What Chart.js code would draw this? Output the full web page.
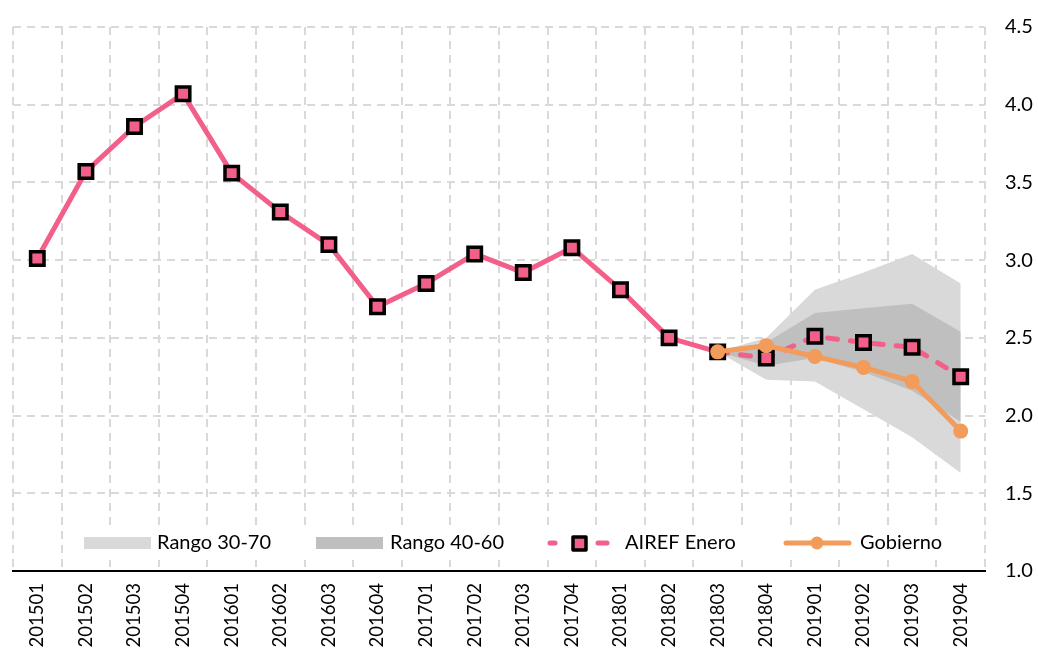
<!DOCTYPE html>
<html>
<head>
<meta charset="utf-8">
<script src="https://cdn.jsdelivr.net/npm/chart.js@4.4.0/dist/chart.umd.min.js"></script>
<style>
  html, body { margin: 0; padding: 0; background: #fff; }
  #wrap { width: 1038px; height: 657px; }
</style>
</head>
<body>
<div id="wrap"><canvas id="grafico" width="1038" height="657"></canvas></div>
<script>
// Trimestres y series
const trimestres = ['201501', '201502', '201503', '201504', '201601', '201602', '201603', '201604',
    '201701', '201702', '201703', '201704', '201801', '201802', '201803', '201804',
    '201901', '201902', '201903', '201904'];
const airefEnero = [3.01, 3.57, 3.86, 4.07, 3.56, 3.31, 3.10, 2.70, 2.85, 3.04, 2.92, 3.08,
    2.81, 2.50, 2.41, 2.37, 2.51, 2.47, 2.44, 2.25];
const gobierno = [null, null, null, null, null, null, null, null, null, null, null, null,
    null, null, 2.41, 2.45, 2.38, 2.31, 2.22, 1.90];
// Abanico (percentiles)
const rango30 = [null, null, null, null, null, null, null, null, null, null, null, null,
    null, null, 2.41, 2.23, 2.22, 2.04, 1.86, 1.63];
const rango70 = [null, null, null, null, null, null, null, null, null, null, null, null,
    null, null, 2.41, 2.50, 2.81, 2.92, 3.04, 2.85];
const rango40 = [null, null, null, null, null, null, null, null, null, null, null, null,
    null, null, 2.41, 2.32, 2.37, 2.28, 2.16, 1.96];
const rango60 = [null, null, null, null, null, null, null, null, null, null, null, null,
    null, null, 2.41, 2.47, 2.66, 2.69, 2.72, 2.54];
const ticksY = [1.0, 1.5, 2.0, 2.5, 3.0, 3.5, 4.0, 4.5];

const ROSA = '#f2608a';
const NARANJA = '#f29b5b';
const GRIS_CLARO = '#d9d9d9';
const GRIS_OSCURO = '#bfbfbf';
const FUENTE = 'Lato, "Open Sans", sans-serif';

// Leyenda dibujada dentro del gráfico, abajo
const leyendaAbajo = {
    id: 'leyendaAbajo',
    afterDatasetsDraw(chart) {
        const ctx = chart.ctx;
        const y = 543;
        ctx.save();
        ctx.fillStyle = '#fff';
        ctx.fillRect(76, 527, 890, 33);
        ctx.font = '20px ' + FUENTE;
        ctx.textBaseline = 'middle';
        ctx.textAlign = 'left';

        // Rango 30-70
        ctx.fillStyle = GRIS_CLARO;
        ctx.fillRect(84, 537, 67, 12);
        ctx.fillStyle = '#000';
        ctx.fillText(chart.data.datasets[1].label, 157, y);

        // Rango 40-60
        ctx.fillStyle = GRIS_OSCURO;
        ctx.fillRect(316, 537, 67, 12);
        ctx.fillStyle = '#000';
        ctx.fillText(chart.data.datasets[3].label, 390, y);

        // AIREF Enero
        ctx.strokeStyle = ROSA;
        ctx.lineWidth = 5;
        ctx.lineCap = 'round';
        ctx.beginPath();
        ctx.moveTo(550, y); ctx.lineTo(555, y);
        ctx.moveTo(598, y); ctx.lineTo(607, y);
        ctx.stroke();
        ctx.fillStyle = ROSA;
        ctx.fillRect(573, y - 6, 13, 13);
        ctx.lineWidth = 3.5;
        ctx.lineJoin = 'round';
        ctx.strokeStyle = '#000';
        ctx.strokeRect(573, y - 6, 13, 13);
        ctx.fillStyle = '#000';
        ctx.fillText(chart.data.datasets[4].label, 625, y);

        // Gobierno
        ctx.strokeStyle = NARANJA;
        ctx.lineWidth = 5;
        ctx.lineCap = 'round';
        ctx.beginPath();
        ctx.moveTo(786, y); ctx.lineTo(849, y);
        ctx.stroke();
        ctx.fillStyle = NARANJA;
        ctx.beginPath();
        ctx.arc(817, y, 6.5, 0, Math.PI * 2);
        ctx.fill();
        ctx.fillStyle = '#000';
        ctx.fillText(chart.data.datasets[5].label, 860, y);
        ctx.restore();
    }
};

const ctx = document.getElementById('grafico').getContext('2d');
new Chart(ctx, {
    type: 'line',
    data: {
        labels: trimestres,
        datasets: [
            { label: 'p30', data: rango30, fill: false, borderWidth: 0, pointRadius: 0, order: 4 },
            { label: 'Rango 30-70', data: rango70, fill: '-1', backgroundColor: GRIS_CLARO,
              borderWidth: 0, pointRadius: 0, order: 3 },
            { label: 'p40', data: rango40, fill: false, borderWidth: 0, pointRadius: 0, order: 4 },
            { label: 'Rango 40-60', data: rango60, fill: '-1', backgroundColor: GRIS_OSCURO,
              borderWidth: 0, pointRadius: 0, order: 2 },
            {
                label: 'AIREF Enero',
                data: airefEnero,
                borderColor: ROSA,
                borderWidth: 5,
                borderCapStyle: 'round',
                segment: {
                    borderDash: c => c.p0DataIndex >= 14 ? [10, 13] : undefined
                },
                pointStyle: 'rect',
                pointRadius: 9.5,
                pointBackgroundColor: ROSA,
                pointBorderColor: '#000',
                pointBorderWidth: 3.5,
                fill: false,
                order: 1
            },
            {
                label: 'Gobierno',
                data: gobierno,
                borderColor: NARANJA,
                borderWidth: 5,
                pointStyle: 'circle',
                pointRadius: 7.5,
                pointBackgroundColor: NARANJA,
                pointBorderWidth: 0,
                fill: false,
                order: 0
            }
        ]
    },
    options: {
        responsive: false,
        animation: false,
        layout: { padding: { left: 12, top: 27, right: 0, bottom: 0 } },
        elements: { line: { tension: 0, borderJoinStyle: 'round' } },
        plugins: {
            legend: { display: false },
            tooltip: { enabled: false }
        },
        scales: {
            x: {
                offset: true,
                grid: { offset: true, color: GRIS_CLARO, lineWidth: 2, drawTicks: false },
                border: { display: true, color: '#000', width: 2, dash: [8, 6] },
                ticks: {
                    autoSkip: false,
                    maxRotation: 90,
                    minRotation: 90,
                    padding: 12,
                    color: '#000',
                    font: { family: FUENTE, size: 18.5 }
                },
                afterFit: s => { s.height = 86; s.paddingLeft = 0; s.paddingRight = 0; }
            },
            y: {
                position: 'right',
                min: ticksY[0],
                max: ticksY[ticksY.length - 1],
                grid: {
                    color: c => c.tick && c.tick.value === ticksY[0] ? 'rgba(0,0,0,0)' : GRIS_CLARO,
                    lineWidth: 2,
                    drawTicks: false
                },
                border: { display: false, dash: [8, 6] },
                ticks: {
                    stepSize: 0.5,
                    padding: 20,
                    color: '#000',
                    font: { family: FUENTE, size: 20 },
                    callback: v => v.toFixed(1)
                },
                afterFit: s => { s.width = 53; s.paddingTop = 0; s.paddingBottom = 0; }
            }
        }
    },
    plugins: [leyendaAbajo]
});
</script>
</body>
</html>
